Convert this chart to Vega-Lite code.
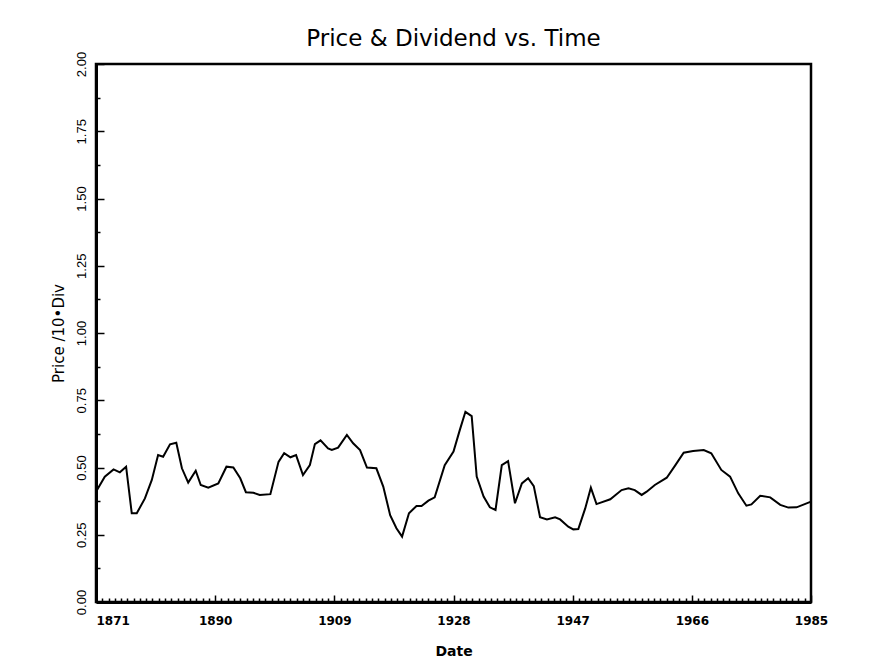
{
  "$schema": "https://vega.github.io/schema/vega-lite/v6.json",
  "width": 715,
  "height": 538,
  "autosize": {"type": "none"},
  "padding": {"left": 96, "top": 64, "right": 58, "bottom": 61},
  "background": "white",
  "title": {"text": "Price & Dividend vs. Time", "font": "DejaVu Sans", "fontSize": 23, "fontWeight": "normal", "baseline": "alphabetic", "frame": "group", "offset": -18, "anchor": "middle", "color": "black"},
  "config": {
    "view": {"stroke": "black", "strokeWidth": 2.5},
    "axis": {"domainColor": "black", "domainWidth": 3, "tickColor": "black", "tickWidth": 1.5, "labelColor": "black", "titleColor": "black", "grid": false}
  },
  "data": {"values": [
    {"year": 1871.0, "ratio": 0.41},
    {"year": 1872.4, "ratio": 0.466},
    {"year": 1873.8, "ratio": 0.493},
    {"year": 1874.8, "ratio": 0.482},
    {"year": 1875.8, "ratio": 0.503},
    {"year": 1876.7, "ratio": 0.33},
    {"year": 1877.5, "ratio": 0.33},
    {"year": 1878.8, "ratio": 0.385},
    {"year": 1879.9, "ratio": 0.454},
    {"year": 1880.9, "ratio": 0.546},
    {"year": 1881.7, "ratio": 0.54},
    {"year": 1882.8, "ratio": 0.586},
    {"year": 1883.8, "ratio": 0.592},
    {"year": 1884.7, "ratio": 0.497},
    {"year": 1885.7, "ratio": 0.444},
    {"year": 1886.9, "ratio": 0.488},
    {"year": 1887.7, "ratio": 0.435},
    {"year": 1888.9, "ratio": 0.425},
    {"year": 1890.5, "ratio": 0.441},
    {"year": 1891.8, "ratio": 0.503},
    {"year": 1892.9, "ratio": 0.5},
    {"year": 1894.0, "ratio": 0.46},
    {"year": 1894.9, "ratio": 0.408},
    {"year": 1896.1, "ratio": 0.406},
    {"year": 1897.1, "ratio": 0.398},
    {"year": 1898.8, "ratio": 0.401},
    {"year": 1900.1, "ratio": 0.521},
    {"year": 1901.0, "ratio": 0.553},
    {"year": 1902.0, "ratio": 0.538},
    {"year": 1902.9, "ratio": 0.546},
    {"year": 1904.0, "ratio": 0.472},
    {"year": 1905.1, "ratio": 0.509},
    {"year": 1905.9, "ratio": 0.587},
    {"year": 1906.8, "ratio": 0.601},
    {"year": 1908.0, "ratio": 0.571},
    {"year": 1908.6, "ratio": 0.565},
    {"year": 1909.6, "ratio": 0.574},
    {"year": 1911.0, "ratio": 0.621},
    {"year": 1912.0, "ratio": 0.59},
    {"year": 1913.1, "ratio": 0.565},
    {"year": 1914.2, "ratio": 0.5},
    {"year": 1915.7, "ratio": 0.497},
    {"year": 1916.8, "ratio": 0.429},
    {"year": 1917.9, "ratio": 0.323},
    {"year": 1918.9, "ratio": 0.274},
    {"year": 1919.8, "ratio": 0.243},
    {"year": 1920.9, "ratio": 0.33},
    {"year": 1922.1, "ratio": 0.357},
    {"year": 1922.9, "ratio": 0.357},
    {"year": 1924.0, "ratio": 0.377},
    {"year": 1925.0, "ratio": 0.389},
    {"year": 1926.6, "ratio": 0.509},
    {"year": 1928.0, "ratio": 0.559},
    {"year": 1929.0, "ratio": 0.639},
    {"year": 1929.9, "ratio": 0.707},
    {"year": 1930.9, "ratio": 0.691},
    {"year": 1931.7, "ratio": 0.466},
    {"year": 1932.8, "ratio": 0.392},
    {"year": 1933.8, "ratio": 0.352},
    {"year": 1934.7, "ratio": 0.342},
    {"year": 1935.7, "ratio": 0.509},
    {"year": 1936.7, "ratio": 0.524},
    {"year": 1937.8, "ratio": 0.367},
    {"year": 1938.9, "ratio": 0.441},
    {"year": 1939.9, "ratio": 0.46},
    {"year": 1940.8, "ratio": 0.431},
    {"year": 1941.8, "ratio": 0.315},
    {"year": 1942.9, "ratio": 0.307},
    {"year": 1944.2, "ratio": 0.315},
    {"year": 1945.0, "ratio": 0.307},
    {"year": 1946.3, "ratio": 0.28},
    {"year": 1947.1, "ratio": 0.27},
    {"year": 1947.9, "ratio": 0.271},
    {"year": 1949.0, "ratio": 0.348},
    {"year": 1949.9, "ratio": 0.425},
    {"year": 1950.8, "ratio": 0.364},
    {"year": 1953.0, "ratio": 0.382},
    {"year": 1954.8, "ratio": 0.416},
    {"year": 1955.9, "ratio": 0.423},
    {"year": 1956.9, "ratio": 0.416},
    {"year": 1958.0, "ratio": 0.398},
    {"year": 1958.8, "ratio": 0.41},
    {"year": 1960.1, "ratio": 0.435},
    {"year": 1962.0, "ratio": 0.462},
    {"year": 1963.3, "ratio": 0.506},
    {"year": 1964.7, "ratio": 0.555},
    {"year": 1966.2, "ratio": 0.561},
    {"year": 1967.9, "ratio": 0.565},
    {"year": 1969.1, "ratio": 0.553},
    {"year": 1970.7, "ratio": 0.491},
    {"year": 1972.1, "ratio": 0.466},
    {"year": 1973.4, "ratio": 0.404},
    {"year": 1974.7, "ratio": 0.358},
    {"year": 1975.5, "ratio": 0.363},
    {"year": 1976.9, "ratio": 0.395},
    {"year": 1978.5, "ratio": 0.389},
    {"year": 1980.1, "ratio": 0.361},
    {"year": 1981.4, "ratio": 0.351},
    {"year": 1982.7, "ratio": 0.352},
    {"year": 1985.0, "ratio": 0.373}
  ]},
  "mark": {"type": "line", "color": "black", "strokeWidth": 2},
  "encoding": {
    "x": {
      "field": "year",
      "type": "quantitative",
      "scale": {"domain": [1871, 1985], "nice": false, "zero": false},
      "axis": {
        "title": "Date",
        "titleFont": "DejaVu Sans",
        "titleFontSize": 14,
        "titleFontWeight": "bold",
        "titlePadding": 15,
        "values": [1871,1872,1873,1874,1875,1876,1877,1878,1879,1880,1881,1882,1883,1884,1885,1886,1887,1888,1889,1890,1891,1892,1893,1894,1895,1896,1897,1898,1899,1900,1901,1902,1903,1904,1905,1906,1907,1908,1909,1910,1911,1912,1913,1914,1915,1916,1917,1918,1919,1920,1921,1922,1923,1924,1925,1926,1927,1928,1929,1930,1931,1932,1933,1934,1935,1936,1937,1938,1939,1940,1941,1942,1943,1944,1945,1946,1947,1948,1949,1950,1951,1952,1953,1954,1955,1956,1957,1958,1959,1960,1961,1962,1963,1964,1965,1966,1967,1968,1969,1970,1971,1972,1973,1974,1975,1976,1977,1978,1979,1980,1981,1982,1983,1984,1985],
        "format": "d",
        "labelExpr": "(datum.value - 1871) % 19 === 0 ? datum.label : ''",
        "labelOverlap": false,
        "labelFlush": false,
        "labelFont": "DejaVu Sans",
        "labelFontSize": 12,
        "labelFontWeight": "bold",
        "labelPadding": 20,
        "labelAlign": {"condition": {"test": "datum.value === 1871", "value": "left"}, "value": "center"},
        "tickSize": {"condition": {"test": "(datum.value - 1871) % 19 === 0", "value": -7}, "value": -4}
      }
    },
    "y": {
      "field": "ratio",
      "type": "quantitative",
      "scale": {"domain": [0, 2], "nice": false, "zero": true},
      "axis": {
        "title": "Price /10•Div",
        "titleFont": "DejaVu Sans",
        "titleFontSize": 15,
        "titleFontWeight": "normal",
        "titlePadding": 5,
        "values": [0,0.125,0.25,0.375,0.5,0.625,0.75,0.875,1,1.125,1.25,1.375,1.5,1.625,1.75,1.875,2],
        "labelExpr": "datum.value % 0.25 === 0 ? format(datum.value, '.2f') : ''",
        "labelOverlap": false,
        "labelFlush": false,
        "labelAngle": 270,
        "labelAlign": "center",
        "labelBaseline": "bottom",
        "labelFont": "Liberation Sans",
        "labelFontSize": 13,
        "labelPadding": 16,
        "tickSize": {"condition": {"test": "datum.value % 0.25 === 0", "value": -8}, "value": -4}
      }
    }
  }
}
